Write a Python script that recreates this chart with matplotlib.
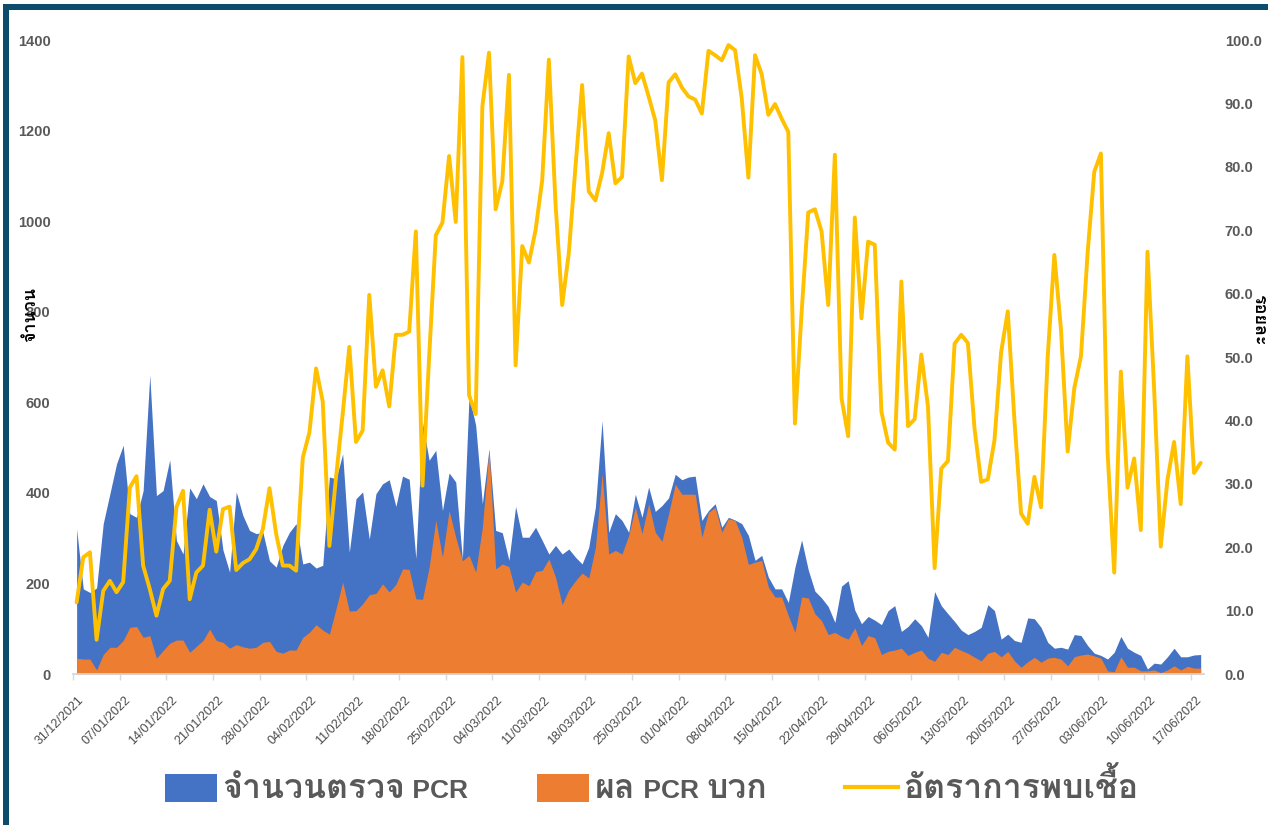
import numpy as np
import matplotlib
matplotlib.use("Agg")
import matplotlib.pyplot as plt
from matplotlib import font_manager as fm
from matplotlib.ft2font import FT2Font
from matplotlib.patches import Rectangle
from matplotlib.lines import Line2D
from matplotlib.transforms import ScaledTranslation

# ---------------- data ----------------
tick_labels = ["31/12/2021", "07/01/2022", "14/01/2022", "21/01/2022", "28/01/2022",
               "04/02/2022", "11/02/2022", "18/02/2022", "25/02/2022", "04/03/2022",
               "11/03/2022", "18/03/2022", "25/03/2022", "01/04/2022", "08/04/2022",
               "15/04/2022", "22/04/2022", "29/04/2022", "06/05/2022", "13/05/2022",
               "20/05/2022", "27/05/2022", "03/06/2022", "10/06/2022", "17/06/2022"]

pcr_tests = [320, 188, 180, 190, 332, 398, 464, 505, 354, 346, 405, 660, 394, 405, 473, 295, 265, 411, 387, 420,
             392, 383, 274, 225, 402, 350, 317, 310, 313, 250, 236, 284, 313, 332, 243, 247, 234, 240, 435, 431,
             486, 269, 387, 402, 298, 398, 420, 429, 370, 437, 430, 255, 555, 472, 494, 361, 444, 424, 254, 615,
             549, 376, 497, 317, 312, 251, 370, 302, 302, 324, 295, 265, 284, 265, 276, 258, 243, 280, 369, 559,
             313, 354, 339, 313, 397, 346, 413, 359, 372, 389, 441, 429, 435, 437, 339, 361, 376, 324, 346, 340,
             332, 306, 251, 262, 214, 188, 188, 158, 236, 296, 230, 183, 168, 149, 114, 194, 206, 141, 111, 127,
             119, 109, 140, 151, 94, 105, 122, 107, 81, 182, 151, 133, 116, 97, 87, 94, 103, 153, 140, 77,
             88, 74, 70, 124, 122, 103, 70, 57, 59, 55, 87, 85, 63, 46, 41, 33, 48, 83, 57, 48,
             41, 11, 24, 22, 38, 57, 38, 38, 42, 43]

pcr_positive = [35, 33, 33, 9, 43, 59, 59, 74, 103, 105, 81, 85, 35, 52, 68, 75, 75, 48, 61, 74,
                99, 74, 70, 57, 65, 60, 57, 59, 70, 72, 50, 46, 53, 53, 81, 92, 109, 97, 88, 144,
                203, 139, 140, 155, 175, 178, 199, 181, 198, 232, 231, 166, 165, 236, 340, 258, 361, 302, 250, 262,
                225, 324, 494, 232, 243, 237, 181, 203, 195, 226, 229, 254, 214, 153, 186, 206, 223, 212, 280, 442,
                265, 273, 265, 306, 368, 310, 376, 313, 293, 354, 419, 397, 397, 397, 302, 357, 368, 313, 343, 339,
                302, 242, 247, 251, 192, 170, 170, 129, 92, 170, 168, 133, 118, 87, 92, 83, 77, 102, 63, 85,
                80, 43, 50, 53, 57, 41, 48, 53, 35, 28, 48, 43, 59, 52, 46, 37, 29, 46, 50, 38,
                50, 29, 15, 27, 37, 26, 35, 37, 33, 18, 38, 42, 44, 40, 35, 7, 5, 38, 15, 15,
                7, 7, 9, 3, 9, 18, 9, 17, 13, 13]

positive_rate = [11.3, 18.4, 19.2, 5.4, 13.1, 14.7, 12.9, 14.5, 29.4, 31.2, 17.1, 13.4, 9.2, 13.4, 14.7, 26.3, 28.9, 11.8, 16.0, 17.1,
                 25.9, 19.3, 26.0, 26.4, 16.4, 17.5, 18.1, 19.7, 22.9, 29.3, 22.1, 17.1, 17.1, 16.3, 34.1, 38.1, 48.2, 43.0, 20.2, 31.0,
                 41.0, 51.6, 36.6, 38.4, 59.8, 45.3, 47.9, 42.2, 53.5, 53.5, 54.0, 69.8, 29.7, 50.0, 69.2, 71.2, 81.7, 71.3, 97.3, 44.0,
                 41.0, 89.5, 98.0, 73.3, 77.7, 94.5, 48.7, 67.5, 64.9, 70.0, 77.9, 96.9, 74.2, 58.2, 66.4, 80.0, 92.9, 76.1, 74.7, 79.0,
                 85.3, 77.4, 78.4, 97.4, 93.2, 94.7, 91.1, 87.3, 77.9, 93.3, 94.6, 92.5, 91.1, 90.6, 88.4, 98.3, 97.6, 96.8, 99.2, 98.4,
                 90.8, 78.3, 97.6, 94.6, 88.2, 89.9, 87.6, 85.5, 39.5, 57.0, 72.8, 73.3, 69.8, 58.2, 81.9, 43.5, 37.5, 72.0, 56.1, 68.2,
                 67.7, 41.4, 36.5, 35.4, 61.9, 39.1, 40.2, 50.4, 42.2, 16.7, 32.4, 33.6, 52.1, 53.5, 52.2, 38.7, 30.3, 30.7, 36.9, 50.8,
                 57.2, 40.0, 25.3, 23.7, 31.1, 26.3, 50.0, 66.1, 54.3, 35.1, 45.1, 50.1, 66.4, 79.2, 82.1, 35.0, 16.0, 47.7, 29.4, 34.0,
                 22.7, 66.6, 45.0, 20.1, 30.6, 36.6, 26.8, 50.1, 31.7, 33.3]

legend_parts = [["จำนวนตรวจ", " PCR"], ["ผล", " PCR ", "บวก"], ["อัตราการพบเชื้อ"]]
left_label = "จำนวน"
right_label = "ร้อยละ"

# ---------------- fonts ----------------
def thai_fonts():
    found = set()
    for f in fm.fontManager.ttflist:
        try:
            ft = FT2Font(f.fname)
            if ft.get_char_index(ord("ก")) and ft.get_char_index(ord("จ")):
                found.add(f.name)
        except Exception:
            pass
    return found

found = thai_fonts()
th = None
for p in ["Loma", "IBM Plex Sans Thai Looped", "Noto Sans Thai Looped", "Noto Sans Thai"]:
    if p in found:
        th = p
        break
if th is None and found:
    th = sorted(found)[0]
thai_fams = ([th] if th else []) + ["Liberation Sans", "DejaVu Sans"]
plt.rcParams["font.family"] = ["Liberation Sans"] + ([th] if th else []) + ["DejaVu Sans"]

BLUE = "#4472C4"
ORANGE = "#ED7D31"
YELLOW = "#FFC000"
GRAY = "#595959"

W, H = 1268, 825
fig = plt.figure(figsize=(W / 100, H / 100), dpi=100)
fig.patch.set_facecolor("white")

L, R, B, T = 73.3, 1204, 674, 40
ax = fig.add_axes([L / W, 1 - B / H, (R - L) / W, (B - T) / H])
ax2 = ax.twinx()

n = len(pcr_tests)
x = np.arange(n) + 0.5

ax.fill_between(x, 0, pcr_tests, color=BLUE, linewidth=0, zorder=2)
ax.fill_between(x, 0, pcr_positive, color=ORANGE, linewidth=0, zorder=3)
ax2.plot(x, positive_rate, color=YELLOW, linewidth=2.8, solid_joinstyle="round",
         solid_capstyle="round", zorder=4)

ax.set_xlim(0, 170)
ax.set_ylim(0, 1400)
ax2.set_ylim(0, 100)

ax.set_yticks(np.arange(0, 1401, 200))
ax.set_yticklabels([str(v) for v in range(0, 1401, 200)])
ax2.set_yticks(np.arange(0, 101, 10))
ax2.set_yticklabels([f"{v:.1f}" for v in range(0, 101, 10)])

ax.set_xticks(np.arange(0, 169, 7))
ax.set_xticklabels(tick_labels, rotation=45, ha="right", va="center", rotation_mode="anchor",
                   fontsize=9, color="#4a4a4a")
ax.tick_params(axis="x", length=4, width=1, color="#D9D9D9", pad=0)
off = ScaledTranslation(9 / 100, -19 / 100, fig.dpi_scale_trans)
for lab in ax.get_xticklabels():
    lab.set_transform(lab.get_transform() + off)

for a in (ax, ax2):
    for s in ("top", "left", "right"):
        a.spines[s].set_visible(False)
    a.spines["bottom"].set_color("#D9D9D9")
    a.spines["bottom"].set_linewidth(1.2)

ax.tick_params(axis="y", length=0, pad=16.5, labelsize=10.5, labelcolor=GRAY)
ax2.tick_params(axis="y", length=0, pad=15, labelsize=10.5, labelcolor=GRAY)
for lab in ax.get_yticklabels() + ax2.get_yticklabels():
    lab.set_fontweight("bold")

ax2.set_zorder(2)
ax.set_zorder(1)
ax2.patch.set_visible(False)
ax.patch.set_visible(False)

renderer = fig.canvas.get_renderer()


def width_px(text, size, family, weight="bold"):
    t = fig.text(0, 0, text, fontsize=size, family=family, fontweight=weight)
    w = t.get_window_extent(renderer).width
    t.remove()
    return w


# Thai sizes chosen so that the Thai words roughly span the widths seen in the reference
thai_leg_size = 0.93 * 10 * 196 / width_px(legend_parts[0][0], 10, thai_fams)
thai_ax_size = 10 * 55 / width_px(left_label, 10, thai_fams)

fig.text(30 / W, 1 - 315 / H, left_label, rotation=90, ha="center", va="center",
         fontsize=thai_ax_size, family=thai_fams, fontweight="bold", color="black")
fig.text(1260 / W, 1 - 320 / H, right_label, rotation=270, ha="center", va="center",
         fontsize=thai_ax_size, family=thai_fams, fontweight="bold", color="black")

# ---------------- legend (manually composed) ----------------
LEG_Y = 798  # text baseline (px from top)
fig.patches.append(Rectangle((165 / W, 1 - 802 / H), 52 / W, 28 / H, transform=fig.transFigure,
                             facecolor=BLUE, edgecolor="none"))
fig.patches.append(Rectangle((537 / W, 1 - 802 / H), 52 / W, 28 / H, transform=fig.transFigure,
                             facecolor=ORANGE, edgecolor="none"))
fig.lines.append(Line2D([845 / W, 898 / W], [1 - 787 / H, 1 - 787 / H], transform=fig.transFigure,
                        color=YELLOW, linewidth=3))

lat_size = 19


def put_parts(x0, parts):
    xp = x0
    for txt in parts:
        is_thai = any("\u0e00" <= ch <= "\u0e7f" for ch in txt)
        t = fig.text(xp / W, 1 - LEG_Y / H, txt,
                     fontsize=thai_leg_size if is_thai else lat_size,
                     family=thai_fams if is_thai else ["Liberation Sans"],
                     fontweight="bold", color=GRAY, ha="left", va="baseline")
        xp = xp + t.get_window_extent(renderer).width


put_parts(222, legend_parts[0])
put_parts(595, legend_parts[1])
put_parts(903, legend_parts[2])

# dark frame on the left and top edges
fig.patches.append(Rectangle((3 / W, 0), 6 / W, 1 - 4 / H, transform=fig.transFigure,
                             facecolor="#0B4D6A", edgecolor="none", zorder=10))
fig.patches.append(Rectangle((3 / W, 1 - 10 / H), 1 - 3 / W, 6 / H, transform=fig.transFigure,
                             facecolor="#0B4D6A", edgecolor="none", zorder=10))

fig.savefig("out.png", dpi=100, facecolor="white")
